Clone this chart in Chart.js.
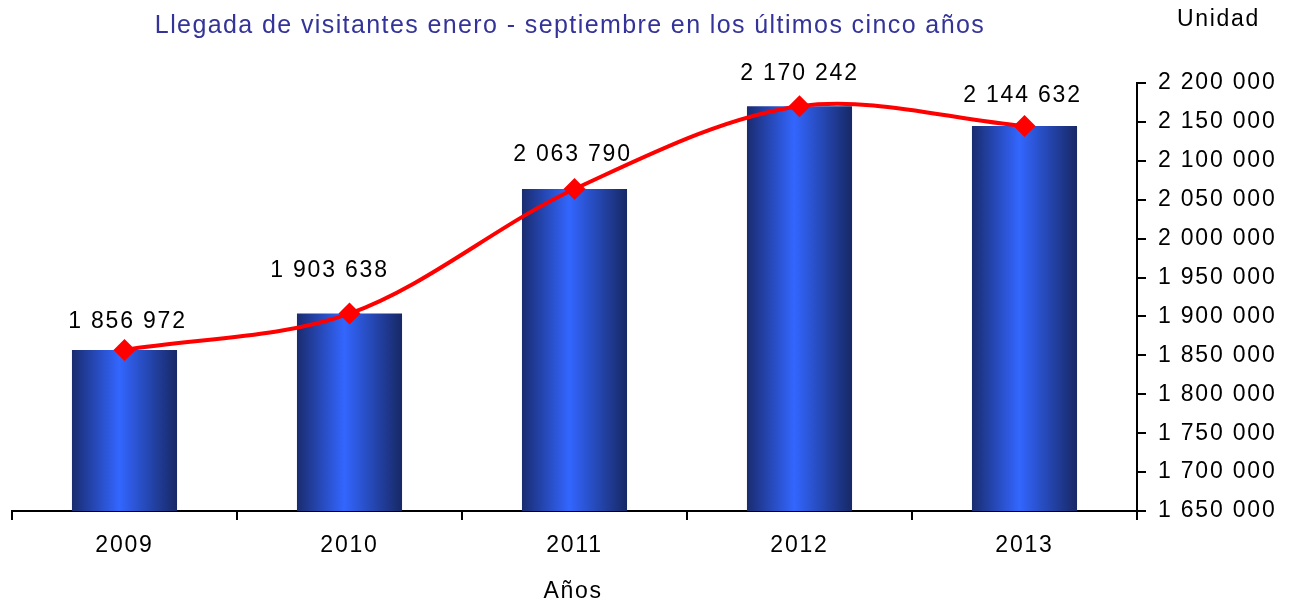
<!DOCTYPE html>
<html>
<head>
<meta charset="utf-8">
<script src="https://cdn.jsdelivr.net/npm/chart.js@4/dist/chart.umd.min.js"></script>
<style>
  html, body { margin: 0; padding: 0; background: #fff; }
  #wrap { position: relative; width: 1291px; height: 606px; font-family: "Liberation Sans", Arial, sans-serif; }
  .txt { position: absolute; white-space: nowrap; font-size: 23px; letter-spacing: 1.7px; }
  #title { left: 0; width: 1140px; top: 10px; text-align: center; color: #333399; font-size: 25px; letter-spacing: 1.4px; }
  #unit { left: 1177px; top: 5px; color: #000; }
  #xtitle { left: 0; width: 1146px; top: 577px; text-align: center; color: #000; }
</style>
</head>
<body>
<div id="wrap">
  <canvas id="chart" width="1291" height="606"></canvas>
  <div class="txt" id="title">Llegada de visitantes enero - septiembre en los últimos cinco años</div>
  <div class="txt" id="unit">Unidad</div>
  <div class="txt" id="xtitle">Años</div>
</div>
<script>
  const years = ['2009', '2010', '2011', '2012', '2013'];
  const visitors = [1856972, 1903638, 2063790, 2170242, 2144632];
  const yMin = 1650000;
  const yMax = 2200000;
  const yStep = 50000;

  const barFraction = 0.467;
  const fontFamily = '"Liberation Sans", Arial, sans-serif';
  const numberSpacing = '1.8px';

  function formatNumber(v) {
    return String(Math.round(v)).replace(/\B(?=(\d{3})+(?!\d))/g, ' ');
  }

  function barGradient(context) {
    const chart = context.chart;
    const xs = chart.scales && chart.scales.x;
    if (!chart.chartArea || !xs) {
      return '#2a4fd0';
    }
    const cx = xs.getPixelForValue(context.dataIndex);
    const half = xs.width / years.length * barFraction / 2;
    const g = chart.ctx.createLinearGradient(cx - half, 0, cx + half, 0);
    g.addColorStop(0, '#1a2c70');
    g.addColorStop(0.45, '#3366ff');
    g.addColorStop(1, '#172865');
    return g;
  }

  // labels above the line points, nudged like the hand-placed ones in the original
  const valueLabels = {
    id: 'valueLabels',
    afterDatasetsDraw(chart, args, opts) {
      const ctx = chart.ctx;
      const meta = chart.getDatasetMeta(0);
      ctx.save();
      ctx.font = '23px ' + fontFamily;
      ctx.letterSpacing = numberSpacing;
      ctx.fillStyle = '#000';
      ctx.textAlign = 'center';
      ctx.textBaseline = 'middle';
      meta.data.forEach((pt, i) => {
        ctx.fillText(formatNumber(visitors[i]), pt.x + opts.dx[i], pt.y - opts.dy[i]);
      });
      ctx.restore();
    }
  };

  const tickSpacing = {
    id: 'tickSpacing',
    beforeDraw(chart) {
      chart.ctx.letterSpacing = numberSpacing;
    }
  };

  new Chart(document.getElementById('chart').getContext('2d'), {
    type: 'bar',
    data: {
      labels: years,
      datasets: [
        {
          type: 'line',
          data: visitors,
          order: 0,
          borderColor: '#ff0000',
          borderWidth: 4,
          tension: 0.33,
          pointStyle: 'rectRot',
          pointRadius: 11,
          pointBackgroundColor: '#ff0000',
          pointBorderColor: '#ff0000',
          pointBorderWidth: 0
        },
        {
          type: 'bar',
          data: visitors,
          order: 1,
          backgroundColor: barGradient,
          borderWidth: 0,
          categoryPercentage: 1,
          barPercentage: barFraction
        }
      ]
    },
    options: {
      responsive: false,
      animation: false,
      layout: {
        padding: {left: 12, top: 83, right: 0, bottom: 0}
      },
      scales: {
        x: {
          grid: {
            drawOnChartArea: false,
            drawTicks: true,
            tickLength: 9,
            color: '#000',
            lineWidth: 2,
            offset: true
          },
          border: {color: '#000', width: 2},
          ticks: {
            color: '#000',
            font: {family: fontFamily, size: 23},
            padding: 12
          },
          afterFit(scale) {
            scale.height = 95;
          }
        },
        y: {
          position: 'right',
          min: yMin,
          max: yMax,
          grid: {
            drawOnChartArea: false,
            drawTicks: true,
            tickLength: 9,
            color: '#000',
            lineWidth: 2
          },
          border: {color: '#000', width: 2},
          ticks: {
            stepSize: yStep,
            color: '#000',
            padding: 12,
            font: {family: fontFamily, size: 23},
            callback: v => formatNumber(v)
          },
          afterFit(scale) {
            scale.width = 154;
          }
        }
      },
      plugins: {
        legend: {display: false},
        tooltip: {enabled: false},
        valueLabels: {
          dx: [3, -20, -2, 0, -2],
          dy: [28, 43, 34, 33, 30]
        }
      }
    },
    plugins: [tickSpacing, valueLabels]
  });
</script>
</body>
</html>
